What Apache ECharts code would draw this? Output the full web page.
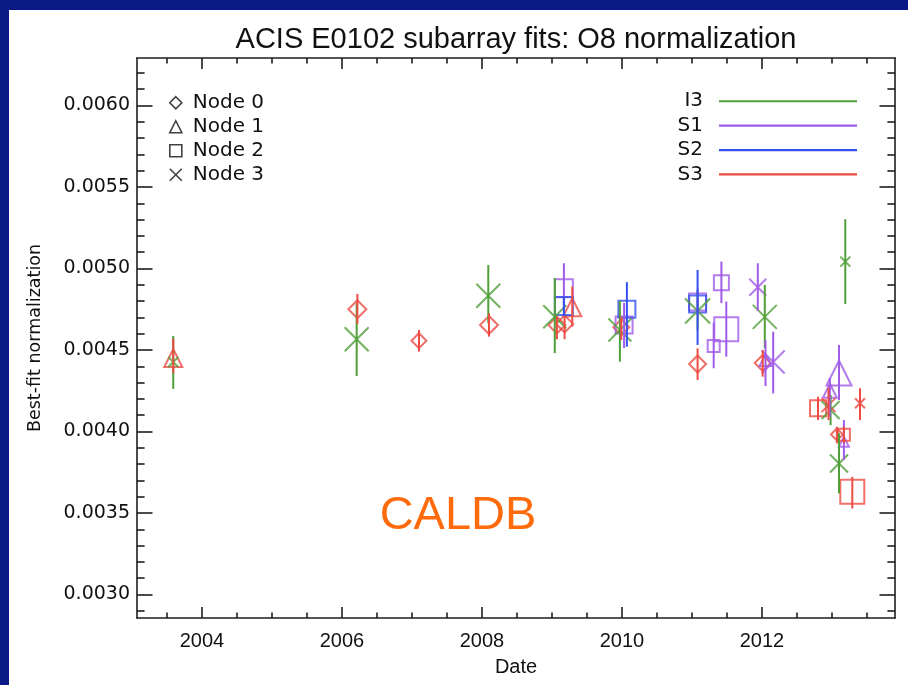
<!DOCTYPE html>
<html>
<head>
<meta charset="utf-8">
<script src="https://cdn.jsdelivr.net/npm/echarts@6/dist/echarts.min.js"></script>
<style>
  html, body { margin: 0; padding: 0; width: 908px; height: 685px; overflow: hidden; background: #0b1a86; }
  #paper { position: absolute; left: 9px; top: 10px; width: 899px; height: 675px; background: #ffffff; }
  #chart { position: absolute; left: 0; top: 0; width: 908px; height: 685px; }
</style>
</head>
<body>
<div id="paper"></div>
<div id="chart"></div>
<script>
// ---------------- data ----------------
const detectors = ['I3', 'S1', 'S2', 'S3'];

// I3
const i3Date = [2003.59, 2006.21, 2008.09, 2009.04, 2009.97, 2011.08, 2012.04, 2012.98, 2013.10, 2013.19];
const i3Norm = [0.004426, 0.004566, 0.004833, 0.004704, 0.004623, 0.004739, 0.004703, 0.004132, 0.003804, 0.005042];
const i3Low  = [0.004261, 0.004340, 0.004664, 0.004481, 0.004428, 0.004620, 0.004512, 0.004039, 0.003620, 0.004782];
const i3High = [0.004586, 0.004788, 0.005021, 0.004942, 0.004803, 0.004860, 0.004899, 0.004224, 0.003989, 0.005302];
const i3Node = [3, 3, 3, 3, 3, 3, 3, 3, 3, 3];

// S1
const s1Date = [2009.17, 2010.03, 2011.08, 2011.31, 2011.42, 2011.49, 2011.94, 2012.05, 2012.16, 2012.97, 2013.10, 2013.17];
const s1Norm = [0.004879, 0.004653, 0.004795, 0.004525, 0.004913, 0.004627, 0.004885, 0.004439, 0.004426, 0.004250, 0.004359, 0.003937];
const s1Low  = [0.004726, 0.004512, 0.004715, 0.004388, 0.004787, 0.004459, 0.004740, 0.004279, 0.004234, 0.004090, 0.004193, 0.003825];
const s1High = [0.005032, 0.004789, 0.004875, 0.004669, 0.005042, 0.004797, 0.005032, 0.004561, 0.004612, 0.004328, 0.004531, 0.004070];
const s1Node = [2, 2, 2, 2, 2, 2, 3, 1, 3, 1, 1, 1];

// S2
const s2Date = [2009.17, 2010.07, 2011.08];
const s2Norm = [0.004770, 0.004750, 0.004782];
const s2Low  = [0.004710, 0.004520, 0.004531];
const s2High = [0.004830, 0.004916, 0.004991];
const s2Node = [2, 2, 2];

// S3
const s3Date = [2003.59, 2006.22, 2007.10, 2008.10, 2009.07, 2009.18, 2009.29, 2009.99, 2011.08, 2012.01, 2012.80, 2012.95, 2013.07, 2013.17, 2013.29, 2013.40];
const s3Norm = [0.004451, 0.004750, 0.004557, 0.004653, 0.004653, 0.004660, 0.004762, 0.004639, 0.004414, 0.004420, 0.004142, 0.004162, 0.003982, 0.003980, 0.003630, 0.004173];
const s3Low  = [0.004359, 0.004660, 0.004490, 0.004582, 0.004566, 0.004566, 0.004643, 0.004561, 0.004316, 0.004336, 0.004070, 0.004070, 0.003927, 0.003930, 0.003528, 0.004070];
const s3High = [0.004568, 0.004844, 0.004623, 0.004725, 0.004704, 0.004704, 0.004889, 0.004704, 0.004510, 0.004500, 0.004213, 0.004267, 0.004029, 0.004030, 0.003722, 0.004265];
const s3Node = [1, 0, 0, 0, 0, 0, 1, 0, 0, 0, 2, 3, 0, 2, 2, 3];

const nodeNames = ['Node 0', 'Node 1', 'Node 2', 'Node 3'];

// tick labels
const xTickLabels = [2004, 2006, 2008, 2010, 2012];
const yTickLabels = ['0.0030', '0.0035', '0.0040', '0.0045', '0.0050', '0.0055', '0.0060'];

// ---------------- styles (kept apart from data) ----------------
const i3Size = [10, 24, 24, 23, 23, 25, 24, 18, 18, 10];
const s1Size = [18, 17, 17, 12, 15, 24, 17, 12, 23, 14, 25, 10];
const s2Size = [18, 17, 17];
const s3Size = [18, 18, 15, 18, 17, 17, 18, 16, 17, 16, 16, 14, 12, 12, 24, 10];
const colors = { I3: '#4f9e37', S1: '#a05be8', S2: '#3550f2', S3: '#ee4b43' };
const xPath = 'path://M0,0L10,10M10,0L0,10';
const nodeSymbols = ['diamond', 'triangle', 'rect', xPath];

const X_MIN = 2003.072, X_MAX = 2013.90;
const Y_MIN = 0.002856, Y_MAX = 0.006291;

const table = {
  I3: { date: i3Date, norm: i3Norm, low: i3Low, high: i3High, node: i3Node, size: i3Size },
  S1: { date: s1Date, norm: s1Norm, low: s1Low, high: s1High, node: s1Node, size: s1Size },
  S2: { date: s2Date, norm: s2Norm, low: s2Low, high: s2High, node: s2Node, size: s2Size },
  S3: { date: s3Date, norm: s3Norm, low: s3Low, high: s3High, node: s3Node, size: s3Size }
};

// tick positions
const majorX = xTickLabels.slice();
const minorX = [];
for (let k = 4006; k <= 4028; k++) { const v = k / 2; if (v % 2 !== 0) minorX.push(v); }
const majorY = yTickLabels.map(Number);
const minorY = [];
for (let k = 29; k <= 62; k++) { if (k % 5 !== 0) minorY.push(k / 10000); }

const axisColor = '#1e1e1e';
const wideFont = 'DejaVu Sans';
const narrowFont = '"Liberation Sans Narrow", "Liberation Sans", sans-serif';

function xAxisDef(pos, ticks, len, withLabels, withLine) {
  return {
    type: 'value', gridIndex: 0, position: pos, min: X_MIN, max: X_MAX,
    axisLine: { show: withLine, onZero: false, lineStyle: { color: axisColor, width: 1.6 } },
    axisTick: { show: true, inside: true, length: len, customValues: ticks, lineStyle: { color: axisColor, width: 1.6 } },
    axisLabel: withLabels ? { show: true, customValues: xTickLabels, color: '#111', fontFamily: narrowFont, fontSize: 20, margin: 13, formatter: v => String(v) } : { show: false },
    splitLine: { show: false },
    name: withLabels ? 'Date' : '', nameLocation: 'middle', nameGap: 39,
    nameTextStyle: { color: '#111', fontFamily: narrowFont, fontSize: 20 }
  };
}
function yAxisDef(pos, ticks, len, withLabels, withLine) {
  return {
    type: 'value', gridIndex: 0, position: pos, min: Y_MIN, max: Y_MAX,
    axisLine: { show: withLine, onZero: false, lineStyle: { color: axisColor, width: 1.6 } },
    axisTick: { show: true, inside: true, length: len, customValues: ticks, lineStyle: { color: axisColor, width: 1.6 } },
    axisLabel: withLabels ? { show: true, customValues: majorY, color: '#111', fontFamily: wideFont, fontSize: 19, margin: 7, formatter: v => v.toFixed(4) } : { show: false },
    splitLine: { show: false },
    name: withLabels ? 'Best-fit normalization' : '', nameLocation: 'middle', nameGap: 93, nameRotate: 90,
    nameTextStyle: { color: '#111', fontFamily: wideFont, fontSize: 17.5 }
  };
}

// scatter series, one per node
const nodeSeries = nodeNames.map((nm, n) => {
  const data = [];
  detectors.forEach(d => {
    const t = table[d];
    t.date.forEach((x, i) => {
      if (t.node[i] === n) {
        data.push({ value: [x, t.norm[i]], symbolSize: t.size[i], itemStyle: { color: 'rgba(0,0,0,0)', borderColor: colors[d], borderWidth: 2 } });
      }
    });
  });
  return {
    name: nm, type: 'scatter', xAxisIndex: 0, yAxisIndex: 0,
    symbol: nodeSymbols[n], data: data, silent: true, z: 3,
    emphasis: { disabled: true }
  };
});

// error bar series, one per detector
const errSeries = detectors.map(d => {
  const t = table[d];
  return {
    name: d, type: 'custom', xAxisIndex: 0, yAxisIndex: 0, silent: true, z: 4,
    data: t.date.map((x, i) => [x, t.low[i], t.high[i]]),
    encode: { x: 0, y: [1, 2] },
    renderItem: (params, api) => {
      const a = api.coord([api.value(0), api.value(1)]);
      const b = api.coord([api.value(0), api.value(2)]);
      return { type: 'line', shape: { x1: a[0], y1: a[1], x2: b[0], y2: b[1] }, style: { stroke: colors[d], lineWidth: 2 } };
    }
  };
});

const chart = echarts.init(document.getElementById('chart'), null, { renderer: 'canvas' });
chart.setOption({
  backgroundColor: 'transparent',
  animation: false,
  title: {
    text: 'ACIS E0102 subarray fits: O8 normalization',
    left: 516, top: 25, textAlign: 'center', padding: 0,
    textStyle: { color: '#111', fontFamily: narrowFont, fontSize: 29, fontWeight: 'normal' }
  },
  grid: { left: 137, top: 58, width: 758, height: 560, containLabel: false },
  xAxis: [
    xAxisDef('bottom', majorX, 11, true, true),
    xAxisDef('bottom', minorX, 5.6, false, false),
    xAxisDef('top', majorX, 11, false, true),
    xAxisDef('top', minorX, 5.6, false, false)
  ],
  yAxis: [
    yAxisDef('left', majorY, 15.5, true, true),
    yAxisDef('left', minorY, 7.6, false, false),
    yAxisDef('right', majorY, 15.5, false, true),
    yAxisDef('right', minorY, 7.6, false, false)
  ],
  legend: [
    {
      orient: 'vertical', left: 169, top: 92.5, padding: 0, itemWidth: 12, itemHeight: 12, itemGap: 3.5,
      selectedMode: false, align: 'left',
      textStyle: { color: '#111', fontFamily: wideFont, fontSize: 20, lineHeight: 20.5, padding: [0, 0, 0, 6] },
      data: nodeNames.map((nm, n) => ({ name: nm, icon: nodeSymbols[n], itemStyle: { color: 'rgba(0,0,0,0)', borderColor: '#111', borderWidth: 1.6 } }))
    },
    {
      orient: 'vertical', right: 51, top: 91, padding: 0, itemWidth: 138, itemHeight: 2.2, itemGap: 3.9,
      selectedMode: false, align: 'right',
      textStyle: { color: '#111', fontFamily: wideFont, fontSize: 20, lineHeight: 20.5, padding: [0, 11, 0, 0] },
      data: detectors.map(d => ({ name: d, icon: 'rect', itemStyle: { color: colors[d], borderWidth: 0 } }))
    }
  ],
  graphic: [
    { type: 'text', x: 458, y: 516, style: { text: 'CALDB', fill: '#ff6a0a', font: '47px "Liberation Sans", sans-serif', align: 'center', verticalAlign: 'middle' } }
  ],
  series: nodeSeries.concat(errSeries)
});
</script>
</body>
</html>
